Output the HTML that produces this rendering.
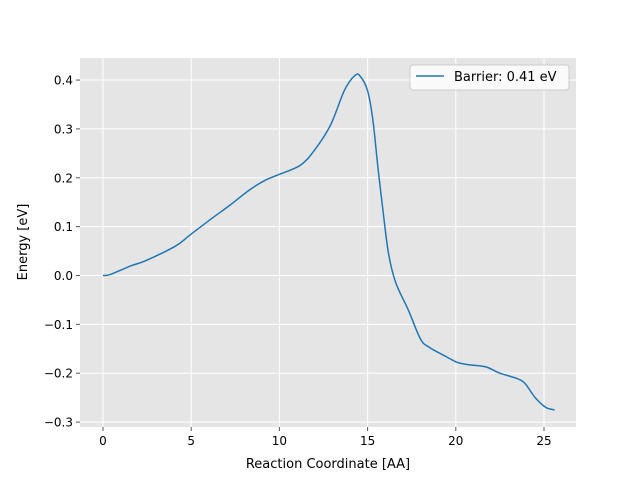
<!DOCTYPE html>
<html><head><meta charset="utf-8"><style>
body{margin:0;background:#fff;font-family:"Liberation Sans","DejaVu Sans",sans-serif}
</style></head><body>
<svg id="chart" width="640" height="480" xmlns="http://www.w3.org/2000/svg" font-family="DejaVu Sans, Liberation Sans, sans-serif">
<rect x="80" y="58" width="496" height="369" fill="#e5e5e5"/>
<g id="grid"></g>
<g id="ticks"></g>
<path id="line" fill="none" stroke="#1f77b4" stroke-width="1.5"/>
<text x="328" y="468" font-size="13" text-anchor="middle">Reaction Coordinate [AA]</text>
<text transform="translate(27,242) rotate(-90)" font-size="13" text-anchor="middle">Energy [eV]</text>
<g>
<rect x="410" y="65" width="159" height="25" rx="3" fill="#fff" fill-opacity="0.8" stroke="#ccc"/>
<line x1="416" y1="76" x2="444" y2="76" stroke="#1f77b4" stroke-width="1.5"/>
<text x="454" y="81" font-size="13">Barrier: 0.41 eV</text>
</g>
</svg>
<script>
const xs=[0,0.4,1.6,2.4,4.1,4.9,6.1,7.2,8.3,9.2,10.0,11.2,12.0,12.9,13.7,14.3,14.6,15.0,15.3,15.6,15.9,16.2,16.6,17.3,18.0,18.5,19.4,20.1,20.8,21.7,22.5,23.4,23.9,24.5,25.1,25.6];
const ys=[0,0.002,0.02,0.03,0.06,0.082,0.115,0.144,0.175,0.195,0.207,0.226,0.257,0.308,0.38,0.41,0.407,0.378,0.318,0.216,0.124,0.042,-0.015,-0.07,-0.13,-0.147,-0.165,-0.178,-0.183,-0.187,-0.2,-0.21,-0.22,-0.25,-0.27,-0.275];
const xTicks=[0,5,10,15,20,25];
const yTicks=[-0.3,-0.2,-0.1,0.0,0.1,0.2,0.3,0.4];
const X=v=>103+v*17.64, Y=v=>275.5-v*488.6;
const ns="http://www.w3.org/2000/svg";
const grid=document.getElementById('grid'),ticks=document.getElementById('ticks');
function mk(tag,attrs,parent){const e=document.createElementNS(ns,tag);for(const k in attrs)e.setAttribute(k,attrs[k]);parent.appendChild(e);return e;}
xTicks.forEach(t=>{const x=X(t);
const g=mk('line',{x1:x,x2:x,y1:58,y2:427,stroke:'#fff','stroke-width':1},grid);


mk('line',{x1:x,x2:x,y1:427,y2:431,stroke:'#555'},ticks);
const tx=mk('text',{x:x,y:445,'font-size':12,'text-anchor':'middle',fill:'#000'},ticks);tx.textContent=t;

});
yTicks.forEach(t=>{const y=Y(t);
const g=mk('line',{x1:80,x2:576,y1:y,y2:y,stroke:'#fff','stroke-width':1},grid);


mk('line',{x1:76,x2:80,y1:y,y2:y,stroke:'#555'},ticks);
const tx=mk('text',{x:73,y:y+4.5,'font-size':12,'text-anchor':'end',fill:'#000'},ticks);tx.textContent=t.toFixed(1).replace('-','\u2212');

});
const P=xs.map((v,i)=>[X(v),Y(ys[i])]);
let d='M'+P[0][0]+','+P[0][1];
for(let i=0;i<P.length-1;i++){const p0=P[Math.max(0,i-1)],p1=P[i],p2=P[i+1],p3=P[Math.min(P.length-1,i+2)];
d+=' C'+(p1[0]+(p2[0]-p0[0])/6)+','+(p1[1]+(p2[1]-p0[1])/6)+' '+(p2[0]-(p3[0]-p1[0])/6)+','+(p2[1]-(p3[1]-p1[1])/6)+' '+p2[0]+','+p2[1];}
document.getElementById('line').setAttribute('d',d);
</script>
</body></html>
